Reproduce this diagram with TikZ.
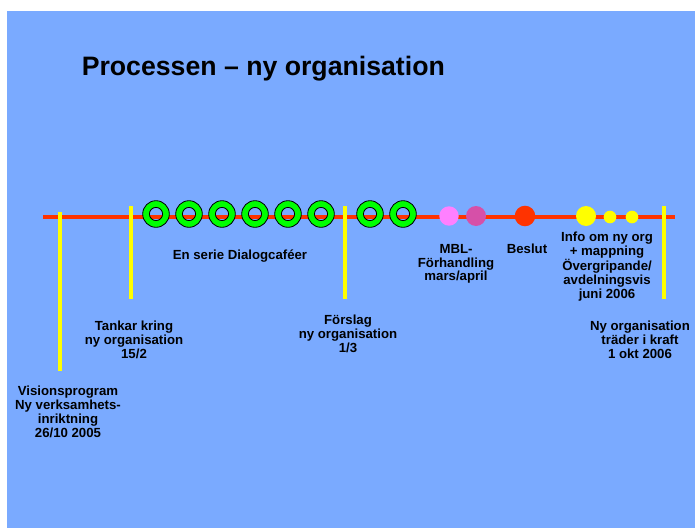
\documentclass[tikz,border=0pt]{standalone}
\usepackage{fontspec}
\setmainfont{Liberation Sans}
\definecolor{bg}{RGB}{122,170,255}
\definecolor{tlred}{RGB}{255,51,0}
\definecolor{tlyellow}{RGB}{255,255,0}
\definecolor{ringgreen}{RGB}{0,255,0}
\definecolor{mblpink}{RGB}{255,128,255}
\definecolor{mblmag}{RGB}{214,80,168}
\begin{document}
\begin{tikzpicture}[x=0.75pt,y=-0.75pt,
  lbl/.style={font=\bfseries\fontsize{9.9}{10.35}\selectfont, align=center, inner sep=0, anchor=base},
  yline/.style={draw=tlyellow, line width=3.4pt},
  ring/.style={fill=ringgreen, draw=black, line width=0.6pt, even odd rule},
  dot/.style={circle, inner sep=0, draw=none}]
\useasboundingbox (0,0) rectangle (695,528);
\fill[bg] (7,11) rectangle (695,528);
\node[anchor=base west, inner sep=0, font=\bfseries\fontsize{20}{24}\selectfont] (title) at (81.5,75) {Processen – ny organisation};
% timeline
\coordinate (tl0) at (43,217);
\coordinate (tl1) at (675,217);
\draw[tlred, line width=3.4pt] (tl0) -- (tl1);
% yellow markers
\coordinate (y1t) at (60,212);  \coordinate (y1b) at (60,371);
\coordinate (y2t) at (131,206); \coordinate (y2b) at (131,299);
\coordinate (y3t) at (345,206); \coordinate (y3b) at (345,299);
\coordinate (y4t) at (664,206); \coordinate (y4b) at (664,299);
\draw[yline] (y1t) -- (y1b);
\draw[yline] (y2t) -- (y2b);
\draw[yline] (y3t) -- (y3b);
\draw[yline] (y4t) -- (y4b);
% dialogue cafe rings
\foreach \i/\x in {1/156,2/189,3/222,4/255,5/288,6/321,7/370,8/403}{
  \coordinate (r\i) at (\x,214);
  \path[ring] (r\i) circle[radius=13.3] (r\i) circle[radius=6.6];
}
% dots
\node[dot, fill=mblpink, minimum size=14.6pt] (mbl1) at (449,216) {};
\node[dot, fill=mblmag, minimum size=15pt] (mbl2) at (476,216) {};
\node[dot, fill=tlred, minimum size=15.4pt] (beslutdot) at (525,216) {};
\node[dot, fill=tlyellow, minimum size=15pt] (info1) at (586,216) {};
\node[dot, fill=tlyellow, minimum size=9.5pt] (info2) at (610,217) {};
\node[dot, fill=tlyellow, minimum size=9.5pt] (info3) at (632,217) {};
% labels (anchor = baseline of last line)
\node[lbl] (cafe) at (240,259) {En serie Dialogcaféer};
\node[lbl] (tankar) at (134,358.5) {Tankar kring\\ny organisation\\15/2};
\node[lbl] (vision) at (68,437.2) {Visionsprogram\\Ny verksamhets-\\inriktning\\26/10 2005};
\node[lbl] (forslag) at (348,352.5) {Förslag\\ny organisation\\1/3};
\node[lbl] (mbl) at (456,280.8) {MBL-\\Förhandling\\mars/april};
\node[lbl] (beslut) at (527,253.3) {Beslut};
\node[lbl] (info) at (607,298.4) {Info om ny org\\+ mappning\\Övergripande/\\avdelningsvis\\juni 2006};
\node[lbl] (nyorg) at (640,358.5) {Ny organisation\\träder i kraft\\1 okt 2006};
\end{tikzpicture}
\end{document}
